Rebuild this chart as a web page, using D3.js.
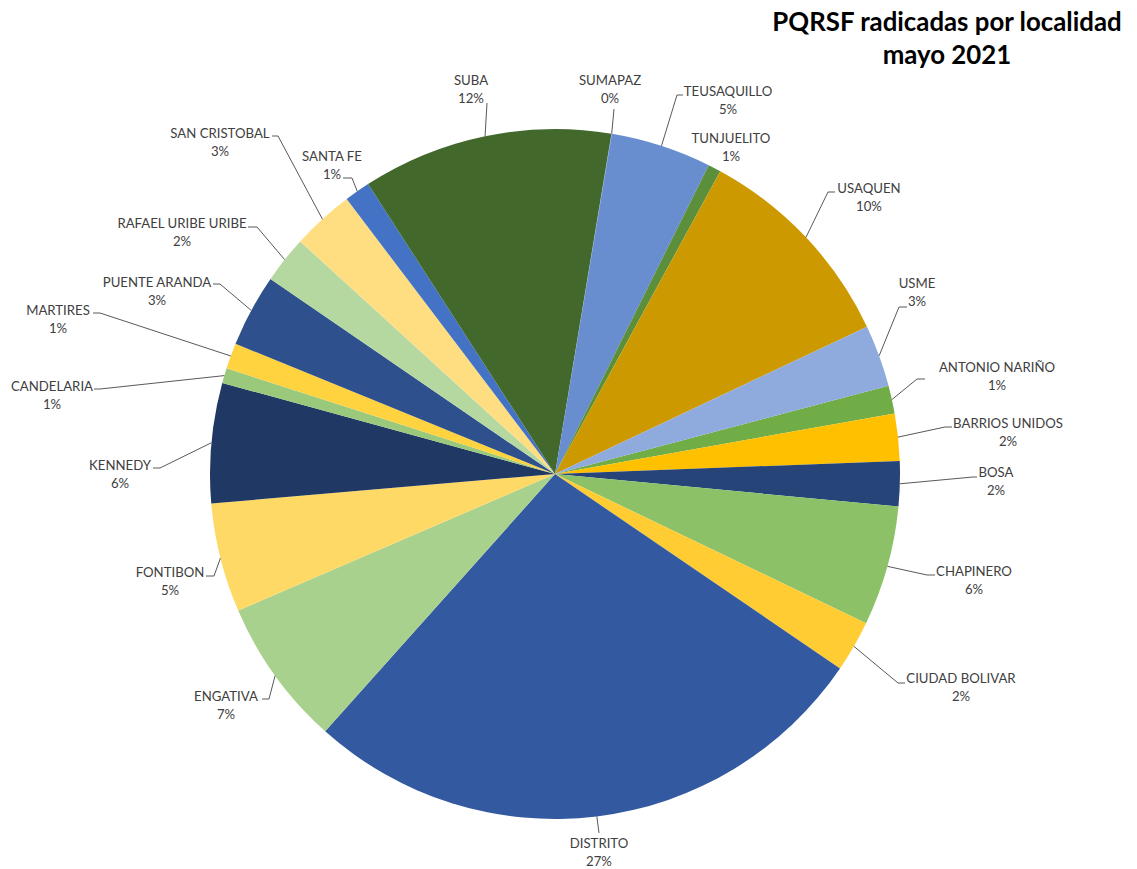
<!DOCTYPE html>
<html>
<head>
<meta charset="utf-8">
<script src="https://cdn.jsdelivr.net/npm/d3@7"></script>
<style>
  html, body { margin: 0; padding: 0; background: #fff; }
  svg { display: block; }
</style>
</head>
<body>
<svg id="chart" width="1137" height="869"></svg>
<script>
// ---- DATA ----
const categories = ["ANTONIO NARIÑO", "BARRIOS UNIDOS", "BOSA", "CHAPINERO", "CIUDAD BOLIVAR",
  "DISTRITO", "ENGATIVA", "FONTIBON", "KENNEDY", "CANDELARIA", "MARTIRES", "PUENTE ARANDA",
  "RAFAEL URIBE URIBE", "SAN CRISTOBAL", "SANTA FE", "SUBA", "SUMAPAZ", "TEUSAQUILLO",
  "TUNJUELITO", "USAQUEN", "USME"];
const values = [1.3, 2.2, 2.1, 5.6, 2.4, 27.0, 6.9, 5.1, 5.6, 0.7, 1.2, 3.4,
  2.2, 2.9, 1.2, 11.7, 0.02, 4.7, 0.6, 10.0, 2.9];
const titleLines = ["PQRSF radicadas por localidad", "mayo 2021"];

// ---- STYLE / LAYOUT ----
const colors = ["#70AD47", "#FFC000", "#264478", "#8CC168", "#FFCD33",
  "#335AA1", "#A9D18E", "#FFD966", "#203864", "#9BC97B", "#FFD23F", "#2E508C",
  "#B5D8A0", "#FFDE82", "#4472C4", "#43682B", "#698ED0", "#698ED0",
  "#5B8F3C", "#CC9A00", "#8FAADC"];
const cx = 555, cy = 474, radius = 345;
const startDeg = 75.2;
// label anchor (center x, name-line center y) and leader bend/end points
const labelLayout = [
  {x: 997, y: 367, leader: [[917, 379], [925, 379]]},
  {x: 1008, y: 423, leader: [[945, 427], [952, 427]]},
  {x: 996, y: 472, leader: [[973, 477], [977, 477]]},
  {x: 974, y: 571, leader: [[927, 575], [935, 575]]},
  {x: 961, y: 678, leader: [[898, 683], [905, 683]]},
  {x: 599, y: 843, leader: [[599, 833]]},
  {x: 226, y: 696, leader: [[269, 699], [262, 699]]},
  {x: 170, y: 572, leader: [[214, 576], [206, 576]]},
  {x: 120, y: 465, leader: [[160, 468], [153, 468]]},
  {x: 52, y: 386, leader: [[100, 389], [94, 389]]},
  {x: 58, y: 310, leader: [[100, 313], [93, 313]]},
  {x: 157, y: 282, leader: [[220, 284], [213, 284]]},
  {x: 182, y: 223, leader: [[257, 227], [248, 227]]},
  {x: 220, y: 133, leader: [[278, 136], [272, 136]]},
  {x: 332, y: 156, leader: [[352, 178], [343, 178]]},
  {x: 471, y: 80, leader: [[487, 103]]},
  {x: 610, y: 80, leader: [[614, 109]]},
  {x: 728, y: 91, leader: [[677, 95], [683, 95]]},
  {x: 731, y: 138, leader: null},
  {x: 869, y: 188, leader: [[828, 192], [835, 192]]},
  {x: 917, y: 283, leader: [[899, 307], [907, 307]]}
];
const FONT = "Lato, 'Open Sans', 'Noto Sans', sans-serif";

const data = categories.map((c, i) => ({name: c, value: values[i], color: colors[i], layout: labelLayout[i]}));
const total = d3.sum(values);
const fmtPct = d3.format(".0%");

const svg = d3.select("#chart");
const g = svg.append("g").attr("transform", `translate(${cx},${cy})`);

const startRad = startDeg * Math.PI / 180;
const pie = d3.pie().value(d => d.value).sort(null)
  .startAngle(startRad).endAngle(startRad + 2 * Math.PI);
const arc = d3.arc().innerRadius(0).outerRadius(radius);
const arcs = pie(data);

g.selectAll("path.slice").data(arcs).join("path")
  .attr("class", "slice")
  .attr("d", arc)
  .attr("fill", d => d.data.color);

// leader lines
const edgePoint = d => {
  const a = (d.startAngle + d.endAngle) / 2;
  return [cx + radius * Math.sin(a), cy - radius * Math.cos(a)];
};
svg.selectAll("polyline.leader").data(arcs.filter(d => d.data.layout.leader)).join("polyline")
  .attr("class", "leader")
  .attr("points", d => [edgePoint(d), ...d.data.layout.leader].map(p => p.join(",")).join(" "))
  .attr("fill", "none")
  .attr("stroke", "#595959")
  .attr("stroke-width", 1);

// labels
const lab = svg.selectAll("g.lab").data(arcs).join("g").attr("class", "lab")
  .attr("font-family", FONT).attr("font-size", 13.2).attr("fill", "#404040")
  .attr("text-anchor", "middle");
lab.append("text")
  .attr("x", d => d.data.layout.x).attr("y", d => d.data.layout.y + 4.8)
  .text(d => d.data.name);
lab.append("text")
  .attr("x", d => d.data.layout.x).attr("y", d => d.data.layout.y + 23.3)
  .text(d => fmtPct(d.data.value / total));

// title
svg.append("g").attr("font-family", FONT).attr("font-weight", "bold").attr("font-size", 25.8)
  .attr("fill", "#000").attr("text-anchor", "middle")
  .selectAll("text").data(titleLines).join("text")
  .attr("x", 947).attr("y", (d, i) => 31 + i * 33)
  .text(d => d);
</script>
</body>
</html>
